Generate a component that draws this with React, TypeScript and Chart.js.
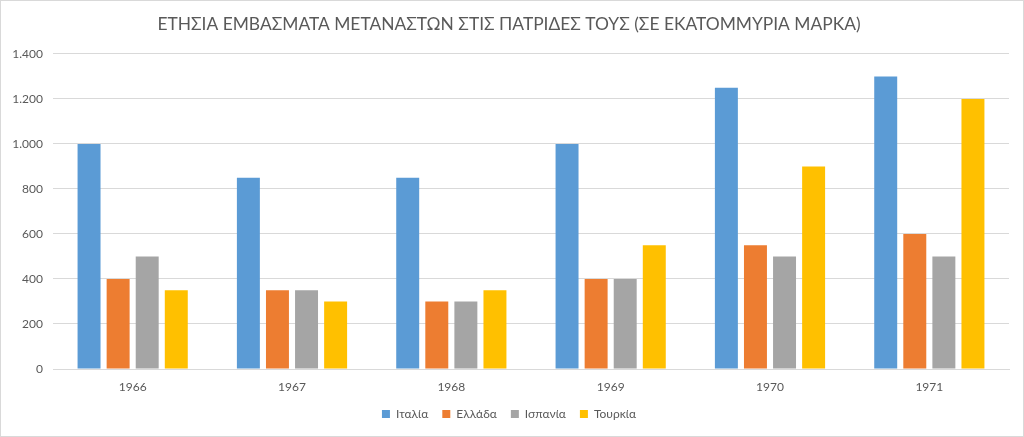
import React, { useEffect, useRef } from "react";
import { Chart, registerables } from "chart.js";

Chart.register(...registerables);

const years = ["1966", "1967", "1968", "1969", "1970", "1971"];
const italia = [1000, 850, 850, 1000, 1250, 1300];
const ellada = [400, 350, 300, 400, 550, 600];
const ispania = [500, 350, 300, 400, 500, 500];
const tourkia = [350, 300, 350, 550, 900, 1200];
const titleText = "ΕΤΗΣΙΑ ΕΜΒΑΣΜΑΤΑ ΜΕΤΑΝΑΣΤΩΝ ΣΤΙΣ ΠΑΤΡΙΔΕΣ ΤΟΥΣ (ΣΕ ΕΚΑΤΟΜΜΥΡΙΑ ΜΑΡΚΑ)";

const FONT = "Lato, 'Open Sans', sans-serif";
const TEXT = "#595959";

export default function App() {
  const ref = useRef<HTMLCanvasElement | null>(null);
  useEffect(() => {
    document.body.style.margin = "0";
    const ctx = ref.current!;
    const chart = new Chart(ctx, {
      type: "bar",
      data: {
        labels: years,
        datasets: [
          { label: "Ιταλία", data: italia, backgroundColor: "#5B9BD5" },
          { label: "Ελλάδα", data: ellada, backgroundColor: "#ED7D31" },
          { label: "Ισπανία", data: ispania, backgroundColor: "#A5A5A5" },
          { label: "Τουρκία", data: tourkia, backgroundColor: "#FFC000" },
        ],
      },
      options: {
        animation: false,
        responsive: false,
        maintainAspectRatio: false,
        layout: { padding: { left: 8, right: 14, top: 0, bottom: 6 } },
        datasets: { bar: { categoryPercentage: 0.73, barPercentage: 0.79 } },
        plugins: {
          title: {
            display: true,
            text: titleText,
            color: TEXT,
            font: { family: FONT, size: 17.4, weight: "normal" },
            padding: { top: 13, bottom: 19 },
          },
          legend: {
            position: "bottom",
            labels: {
              boxWidth: 8,
              boxHeight: 8,
              color: TEXT,
              font: { family: FONT, size: 12 },
              padding: 14,
            },
          },
          tooltip: { enabled: false },
        },
        scales: {
          x: {
            grid: { display: false },
            border: { color: "#d9d9d9" },
            ticks: { color: TEXT, font: { family: FONT, size: 12 }, padding: 3 },
            afterFit: (s: any) => { s.height = 25; },
          },
          y: {
            min: 0,
            max: 1400,
            ticks: {
              stepSize: 200,
              color: TEXT,
              font: { family: FONT, size: 12 },
              padding: 10,
              callback: (v: any) => Number(v).toLocaleString("de-DE"),
            },
            grid: { color: "#d9d9d9", drawTicks: false },
            border: { display: false },
            afterFit: (s: any) => { s.width = 44; },
          },
        },
      },
    });
    return () => chart.destroy();
  }, []);
  return (
    <div style={{ position: "relative", width: 1024, height: 437, boxSizing: "border-box", border: "1px solid #d9d9d9", background: "#fff" }}>
      <canvas ref={ref} width={1022} height={435} style={{ display: "block" }} />
    </div>
  );
}
